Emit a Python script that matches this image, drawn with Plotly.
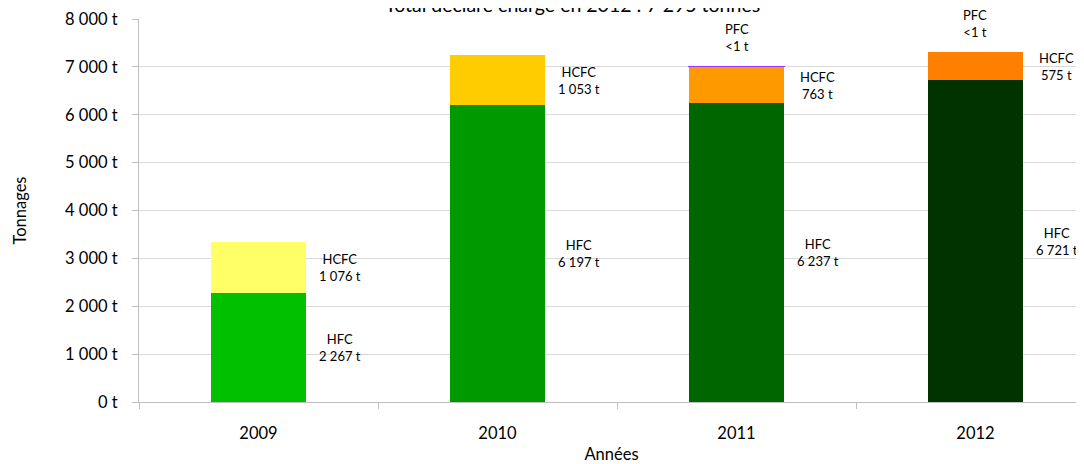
import plotly.graph_objects as go

years = ["2009", "2010", "2011", "2012"]
hfc = [2267, 6197, 6237, 6721]
hcfc = [1076, 1053, 763, 575]
pfc = [0, 0, 0.5, 0.5]

hfc_labels = ["HFC<br>2 267 t", "HFC<br>6 197 t", "HFC<br>6 237 t", "HFC<br>6 721 t"]
hcfc_labels = ["HCFC<br>1 076 t", "HCFC<br>1 053 t", "HCFC<br>763 t", "HCFC<br>575 t"]
pfc_labels = ["", "", "PFC<br><1 t", "PFC<br><1 t"]

y_ticks = [0, 1000, 2000, 3000, 4000, 5000, 6000, 7000, 8000]
y_ticktext = ["0 t", "1 000 t", "2 000 t", "3 000 t", "4 000 t",
              "5 000 t", "6 000 t", "7 000 t", "8 000 t"]

hfc_colors = ["#00C000", "#009900", "#006600", "#003300"]
hcfc_colors = ["#FFFF66", "#FFCC00", "#FF9900", "#FF8000"]
# only the 2011 PFC sliver shows as a purple edge
pfc_colors = ["#9933FF", "#9933FF", "#9933FF", "#FF8000"]
pfc_edges = [0, 0, 1.2, 0]

FONT = "Lato, Calibri, sans-serif"
TEXT = "#000000"

fig = go.Figure()
fig.add_trace(go.Bar(x=years, y=hfc, name="HFC", marker=dict(color=hfc_colors, line=dict(width=0))))
fig.add_trace(go.Bar(x=years, y=hcfc, name="HCFC", marker=dict(color=hcfc_colors, line=dict(width=0))))
fig.add_trace(go.Bar(x=years, y=pfc, name="PFC",
                     marker=dict(color=pfc_colors, line=dict(color=pfc_colors, width=pfc_edges))))

# labels beside the bars, centred on each segment
for i, yr in enumerate(years):
    fig.add_annotation(x=i + 0.34, y=hfc[i] / 2, text=hfc_labels[i], showarrow=False,
                       xref="x", yref="y", font=dict(size=13, color=TEXT, family=FONT))
    fig.add_annotation(x=i + 0.34, y=hfc[i] + hcfc[i] / 2, text=hcfc_labels[i], showarrow=False,
                       xref="x", yref="y", font=dict(size=13, color=TEXT, family=FONT))
    if pfc_labels[i]:
        fig.add_annotation(x=i, y=hfc[i] + hcfc[i] + pfc[i], yshift=29, text=pfc_labels[i],
                           showarrow=False, xref="x", yref="y",
                           font=dict(size=13, color=TEXT, family=FONT))

# title sits half outside the top edge, as in the source
fig.add_annotation(text="Total déclaré chargé en 2012 : 7 295 tonnes", xref="paper", yref="paper",
                   x=0.459, y=1, yshift=15, showarrow=False, yanchor="middle",
                   font=dict(size=19.5, color=TEXT, family=FONT))

# the page body has an 8px margin, so the figure is shrunk by that much
fig.update_layout(
    width=1076, height=456,
    barmode="stack", bargap=0.6,
    paper_bgcolor="white", plot_bgcolor="white",
    font=dict(family=FONT, color=TEXT, size=16),
    margin=dict(l=131, r=0, t=11, b=62, autoexpand=False),
    showlegend=False,
    xaxis=dict(range=[-0.5, 3.454], tickson="boundaries", ticks="outside", ticklen=6,
               tickcolor="#BFBFBF", showline=True, linecolor="#BFBFBF", showgrid=False,
               automargin=False, ticklabelstandoff=16,
               tickfont=dict(size=16.5), title=dict(text="Années", font=dict(size=16.5), standoff=8)),
    yaxis=dict(range=[0, 8000], tickvals=y_ticks, ticktext=y_ticktext, ticks="outside",
               ticklen=6, tickcolor="#BFBFBF", showline=True, linecolor="#BFBFBF",
               gridcolor="#D9D9D9", zeroline=False, ticklabelstandoff=11, automargin=False,
               tickfont=dict(size=16.5), title=dict(text="Tonnages", font=dict(size=16.5), standoff=34)),
)

fig.write_html("out.html")
